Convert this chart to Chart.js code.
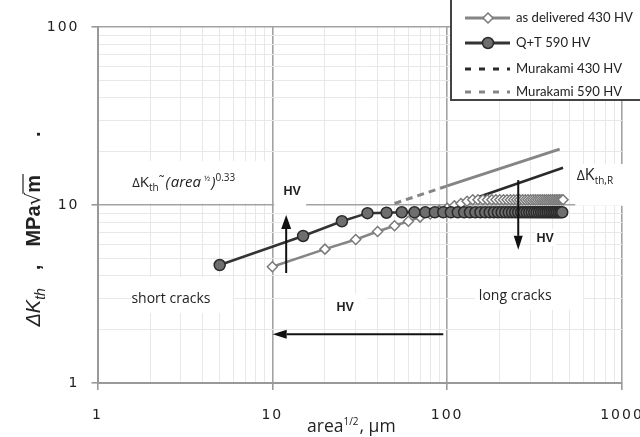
<!DOCTYPE html>
<html><head><meta charset="utf-8">
<script src="https://cdn.jsdelivr.net/npm/chart.js@4.4.1/dist/chart.umd.min.js"></script>
<style>html,body{margin:0;padding:0;background:#fff}#wrap{width:640px;height:437px;position:relative}</style>
</head><body><div id="wrap"><canvas id="c"></canvas></div>
<script>
// ---- data ----
const qtX = [5,15,25,35,45,55,65,75,85,95,105,115,125,135,145,155,165,175,185,195,205,215,225,235,245,255,265,275,285,295,305,315,325,335,345,355,365,375,385,395,405,415,425,435,445,455];
const qtY = [4.6,6.7,8.1,9.0,9.05, 9.1,9.1,9.1,9.1,9.1, 9.1,9.1,9.1,9.1,9.1, 9.1,9.1,9.1,9.1,9.1, 9.1,9.1,9.1,9.1,9.1, 9.1,9.1,9.1,9.1,9.1, 9.1,9.1,9.1,9.1,9.1, 9.1,9.1,9.1,9.1,9.1, 9.1,9.1,9.1,9.1,9.1, 9.1];
const adX = [10,20,30,40,50,60,70,80,90,100,110,120,130,140,150,160,170,180,190,200,210,220,230,240,250,260,270,280,290,300,310,320,330,340,350,360,370,380,390,400,410,420,430,440,450,460];
const adY = [4.5,5.65,6.4,7.1,7.65,8.1,8.55,8.9,9.3,9.6,9.9,10.2,10.5,10.7, 10.7,10.7,10.7,10.7,10.7, 10.7,10.7,10.7,10.7,10.7, 10.7,10.7,10.7,10.7,10.7, 10.7,10.7,10.7,10.7,10.7, 10.7,10.7,10.7,10.7,10.7, 10.7,10.7,10.7,10.7,10.7, 10.7,10.7];
const mur590X = [50,100,440];
const mur590Y = [10.2,12.8,20.6];
const mur430X = [140,460];
const mur430Y = [10.8,16.2];
const seriesLabels = ['as delivered 430 HV','Q+T 590 HV','Murakami 430 HV','Murakami 590 HV'];
const xMajor = [1,10,100,1000];
const yMajor = [1,10,100];
const xTickLabels = ['1','10','100','1000'];
const yTickLabels = ['1','10','100'];

const pts = (xs, ys) => xs.map((x, i) => ({x, y: ys[i]}));
function gridValues(majors) {
  const out = [];
  majors.forEach((m, i) => { out.push(m); if (i < majors.length - 1) for (let k = 2; k <= 9; k++) out.push(m * k); });
  return out;
}
const isMajor = (majors, v) => majors.some(m => Math.abs(m - v) < 1e-9 * m);

const TXT = '#222';
function drawRuns(ctx, x, y, runs, align) {
  let total = 0;
  runs.forEach(r => { ctx.font = r.font; r.w = ctx.measureText(r.t).width; total += r.w + (r.gap || 0); });
  let cx = align === 'center' ? x - total / 2 : x;
  const start = cx;
  runs.forEach(r => { ctx.font = r.font; ctx.fillText(r.t, cx, y + (r.dy || 0)); r.x0 = cx; cx += r.w + (r.gap || 0); });
  return {x: start, w: total, runs};
}
function arrow(ctx, x1, y1, x2, y2, hl, hw) {
  const a = Math.atan2(y2 - y1, x2 - x1);
  const bx = x2 - Math.cos(a) * hl, by = y2 - Math.sin(a) * hl;
  ctx.beginPath(); ctx.moveTo(x1, y1); ctx.lineTo(bx, by); ctx.stroke();
  ctx.beginPath();
  ctx.moveTo(x2, y2);
  ctx.lineTo(bx + Math.sin(a) * hw, by - Math.cos(a) * hw);
  ctx.lineTo(bx - Math.sin(a) * hw, by + Math.cos(a) * hw);
  ctx.closePath(); ctx.fill();
}

// text labels: anchor in data coords, white box offsets in px relative to anchor
const labels = [
  {x: 2.63, y: 3.0, box: [-39, -21, 62, 15], runs: [{t: 'short cracks', font: '14px "Open Sans"'}], dy: 5},
  {x: 245, y: 3.12, box: [-40, -18, 68, 15], runs: [{t: 'long cracks', font: '14px "Open Sans"'}], dy: 5},
  {x: 12.98, y: 12.1, box: [-18, -15, 14, 18], runs: [{t: 'HV', font: 'bold 12.5px "Liberation Sans"'}], dy: 5},
  {x: 364, y: 6.6, box: [-10, -8, 11, 9], runs: [{t: 'HV', font: 'bold 12.5px "Liberation Sans"'}], dy: 5},
  {x: 26.1, y: 2.71, box: [-20, -12, 22, 14], runs: [{t: 'HV', font: 'bold 12.5px "Liberation Sans"'}], dy: 5},
];

const annot = {
  id: 'annot',
  beforeDraw(chart) { chart.ctx.letterSpacing = '2px'; },
  beforeDatasetsDraw(chart) {
    const ctx = chart.ctx; ctx.letterSpacing = '0px';
    const xs = chart.scales.x, ys = chart.scales.y;
    const X = v => xs.getPixelForValue(v), Y = v => ys.getPixelForValue(v);
    ctx.save();
    ctx.textBaseline = 'alphabetic';
    // formula label box + text
    const fx = X(1.58), fy = Y(12.6);
    ctx.fillStyle = '#fff'; ctx.fillRect(fx - 26, fy - 26, 160, 42);
    ctx.fillStyle = TXT;
    drawRuns(ctx, fx, fy, [
      {t: 'Δ', font: '13px "Open Sans"'},
      {t: 'K', font: '15px "Open Sans"'},
      {t: 'th', font: '10px "Open Sans"', dy: 4},
      {t: '˜', font: '13px "Open Sans"', dy: -2, gap: 1},
      {t: '(', font: 'italic 15px "Open Sans"', gap: 1},
      {t: 'area', font: 'italic 15px "Open Sans"', gap: 3},
      {t: '½', font: '8px "Open Sans"', dy: -6, gap: 1},
      {t: ')', font: 'italic 15px "Open Sans"'},
      {t: '0.33', font: '10px "Open Sans"', dy: -6}
    ], 'left');
    // ΔKth,R label
    const rx = X(700), ry = Y(13.8);
    ctx.fillStyle = '#fff'; ctx.fillRect(X(540), Y(17), 60, Y(9.9) - Y(17));
    ctx.fillStyle = TXT;
    drawRuns(ctx, rx, ry, [
      {t: 'Δ', font: '14px "Open Sans"'},
      {t: 'K', font: '16px "Open Sans"'},
      {t: 'th,R', font: '10px "Open Sans"', dy: 4}
    ], 'center');
    labels.forEach(l => {
      const px = X(l.x), py = Y(l.y);
      ctx.fillStyle = '#fff';
      ctx.fillRect(px + l.box[0], py + l.box[1], l.box[2] - l.box[0], l.box[3] - l.box[1]);
      ctx.fillStyle = TXT;
      drawRuns(ctx, px, py + l.dy, l.runs, 'center');
    });
    ctx.restore();
  },
  afterDatasetsDraw(chart) {
    const ctx = chart.ctx;
    const xs = chart.scales.x, ys = chart.scales.y;
    const X = v => xs.getPixelForValue(v), Y = v => ys.getPixelForValue(v);
    ctx.save();
    ctx.strokeStyle = '#111'; ctx.fillStyle = '#111'; ctx.lineWidth = 2;
    arrow(ctx, X(12.0), Y(4.15), X(12.0), Y(8.8), 14, 5);
    arrow(ctx, X(255), Y(13.8), X(255), Y(5.6), 14, 4.5);
    arrow(ctx, X(95), Y(1.88), X(10.05), Y(1.88), 14, 4.5);
    ctx.restore();
  },
  afterDraw(chart) {
    const ctx = chart.ctx; ctx.letterSpacing = '0px';
    ctx.save();
    // legend
    ctx.fillStyle = '#fff'; ctx.fillRect(451, -5, 200, 105);
    ctx.strokeStyle = '#444'; ctx.lineWidth = 2; ctx.strokeRect(451, -5, 200, 105);
    const rowsY = [18, 43, 69, 92];
    ctx.font = '14px Lato';
    const fs = 14 * 117 / ctx.measureText(seriesLabels[0]).width;
    chart.data.datasets.forEach((ds, i) => {
      const y = rowsY[i];
      ctx.save();
      ctx.strokeStyle = ds.borderColor; ctx.lineWidth = 3;
      ctx.setLineDash(ds.legendDash || []);
      ctx.beginPath(); ctx.moveTo(465, y); ctx.lineTo(510, y); ctx.stroke();
      ctx.setLineDash([]);
      if (ds.pointRadius) {
        ctx.fillStyle = ds.pointBackgroundColor; ctx.strokeStyle = ds.pointBorderColor; ctx.lineWidth = 1.5;
        ctx.beginPath();
        if (ds.pointStyle === 'rectRot') { const r = 5; ctx.moveTo(488, y - r); ctx.lineTo(488 + r, y); ctx.lineTo(488, y + r); ctx.lineTo(488 - r, y); ctx.closePath(); }
        else ctx.arc(488, y, 5.5, 0, Math.PI * 2);
        ctx.fill(); ctx.stroke();
      }
      ctx.restore();
      ctx.fillStyle = TXT; ctx.font = fs.toFixed(2) + 'px Lato'; ctx.textBaseline = 'middle';
      ctx.fillText(ds.label, 516, y);
    });
    // x title
    ctx.textBaseline = 'alphabetic'; ctx.fillStyle = TXT;
    drawRuns(ctx, 307, 432, [
      {t: 'area', font: '17.5px "Open Sans"'},
      {t: '1/2', font: '10px "Open Sans"', dy: -7, gap: 1},
      {t: ', μm', font: '17.5px "Open Sans"'}
    ], 'left');
    // y title
    ctx.save();
    ctx.translate(40, 229); ctx.rotate(-Math.PI / 2);
    const res = drawRuns(ctx, 0, 0, [
      {t: 'ΔK', font: 'italic 20px "Liberation Sans"'},
      {t: 'th', font: 'italic 14px "Liberation Sans"', dy: 5, gap: 18},
      {t: ',', font: 'bold 20px "Liberation Sans"', gap: 18},
      {t: 'MPa', font: 'bold 20px "Liberation Sans"'},
      {t: '√', font: '20px "DejaVu Sans"'},
      {t: 'm', font: 'bold 20px "Liberation Sans"', gap: 38},
      {t: '.', font: 'bold 20px "Liberation Sans"'}
    ], 'center');
    const sq = res.runs[4], mm = res.runs[5];
    ctx.strokeStyle = TXT; ctx.lineWidth = 1.2;
    ctx.beginPath(); ctx.moveTo(sq.x0 + sq.w - 1, -17); ctx.lineTo(mm.x0 + mm.w + 1, -17); ctx.stroke();
    ctx.restore();
    ctx.restore();
  }
};

function gridColor(majors) { return c => isMajor(majors, c.tick.value) ? '#a3a3a3' : '#e8e8e8'; }
function gridWidth(majors) { return c => isMajor(majors, c.tick.value) ? 1.6 : 1; }
function tickColor(majors) { return c => isMajor(majors, c.tick.value) ? '#999' : 'rgba(0,0,0,0)'; }

new Chart(document.getElementById('c'), {
  type: 'line',
  data: {
    datasets: [
      {label: seriesLabels[0], data: pts(adX, adY), order: 1, borderColor: '#858585', borderWidth: 2.5,
       pointStyle: 'rectRot', pointRadius: 5, pointBackgroundColor: '#fff', pointBorderColor: '#7a7a7a', pointBorderWidth: 1.5},
      {label: seriesLabels[1], data: pts(qtX, qtY), order: 0, borderColor: '#333', borderWidth: 2.5,
       pointStyle: 'circle', pointRadius: 5.5, pointBackgroundColor: '#6e6e6e', pointBorderColor: '#2a2a2a', pointBorderWidth: 1.5},
      {label: seriesLabels[2], data: pts(mur430X, mur430Y), order: 2, borderColor: '#2a2a2a', borderWidth: 2.5, pointRadius: 0,
       legendDash: [6, 8]},
      {label: seriesLabels[3], data: pts(mur590X, mur590Y), order: 3, borderColor: '#858585', borderWidth: 3, pointRadius: 0,
       legendDash: [6, 8],
       segment: {borderDash: c => c.p1.parsed.x <= 100 ? [7, 5] : undefined}}
    ]
  },
  options: {
    responsive: true, maintainAspectRatio: false, animation: false,
    layout: {padding: {top: 27, right: 18, left: 0, bottom: 0}},
    plugins: {legend: {display: false}, tooltip: {enabled: false}},
    elements: {line: {tension: 0}},
    scales: {
      x: {
        type: 'logarithmic', min: 1, max: 1000,
        afterBuildTicks: s => { s.ticks = gridValues(xMajor).map(v => ({value: v})); },
        afterFit: s => { s.height = 54; s.paddingLeft = 0; s.paddingRight = 0; },
        ticks: {autoSkip: false, maxRotation: 0, padding: 17, color: '#222', font: {family: 'DejaVu Sans', size: 14},
          callback: v => { const i = xMajor.findIndex(m => Math.abs(m - v) < 1e-9 * m); return i >= 0 ? xTickLabels[i] : ''; }},
        grid: {color: gridColor(xMajor), lineWidth: gridWidth(xMajor), tickColor: tickColor(xMajor), tickLength: 7, tickWidth: 1.6},
        border: {color: '#999', width: 2}
      },
      y: {
        type: 'logarithmic', min: 1, max: 100,
        afterBuildTicks: s => { s.ticks = gridValues(yMajor).map(v => ({value: v})); },
        afterFit: s => { s.width = 97.5; s.paddingTop = 0; s.paddingBottom = 0; },
        ticks: {autoSkip: false, padding: 12, color: '#222', font: {family: 'DejaVu Sans', size: 14},
          callback: v => { const i = yMajor.findIndex(m => Math.abs(m - v) < 1e-9 * m); return i >= 0 ? yTickLabels[i] : ''; }},
        grid: {color: gridColor(yMajor), lineWidth: gridWidth(yMajor), tickColor: tickColor(yMajor), tickLength: 6, tickWidth: 1.6},
        border: {color: '#999', width: 2}
      }
    }
  },
  plugins: [annot]
});
</script>
</body></html>
